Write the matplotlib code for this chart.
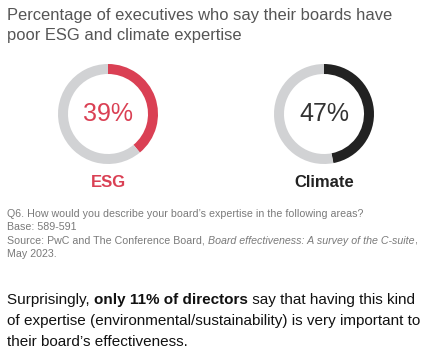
import matplotlib
matplotlib.use('Agg')
import matplotlib.pyplot as plt

plt.rcParams['font.family'] = ['Liberation Sans', 'DejaVu Sans']

labels = ['ESG', 'Climate']
values = [39, 47]
colors = ['#DA4054', '#222222']
rest_color = '#D1D2D4'
centers_px = [(108, 114), (324, 114)]

title = 'Percentage of executives who say their boards have\npoor ESG and climate expertise'
notes = ['Q6. How would you describe your board\u2019s expertise in the following areas?',
         'Base: 589-591']
source_plain = 'Source: PwC and The Conference Board, '
source_italic = 'Board effectiveness: A survey of the C-suite'
source_end = ','
source_line2 = 'May 2023.'

W, H = 437, 357
fig = plt.figure(figsize=(W / 100, H / 100), dpi=100)

fig.text(7 / W, 1 - 8 / H, title, ha='left', va='top', fontsize=11.9,
         color='#555555', linespacing=1.4)

R = 50
for (cx, cy), lab, val, col in zip(centers_px, labels, values, colors):
    ax = fig.add_axes([(cx - R) / W, 1 - (cy + R) / H, 2 * R / W, 2 * R / H])
    ax.pie([val, 100 - val], colors=[col, rest_color], startangle=90,
           counterclock=False, radius=1,
           wedgeprops=dict(width=0.2, linewidth=0))
    ax.set_xlim(-1, 1)
    ax.set_ylim(-1, 1)
    ax.set_aspect('equal')
    ax.axis('off')
    ax.text(0, 0, f'{val}%', ha='center', va='center', fontsize=18,
            color=col if col != '#222222' else '#333333')
    fig.text(cx / W, 1 - 183 / H, lab, ha='center', va='center', fontsize=12,
             fontweight='bold', color=col)

note_size = 7.7
note_color = '#7a7a7a'
y0 = 214
for i, line in enumerate(notes):
    fig.text(7 / W, 1 - (y0 + i * 13.3) / H, line, ha='left', va='center',
             fontsize=note_size, color=note_color)

fig.canvas.draw()
renderer = fig.canvas.get_renderer()


def run_text(x_px, y_px, parts, size, color):
    x = x_px
    for txt, kw in parts:
        t = fig.text(x / W, 1 - y_px / H, txt, ha='left', va='center',
                     fontsize=size, color=color, **kw)
        bb = t.get_window_extent(renderer=renderer)
        x += bb.width
    return x


run_text(7, y0 + 26.6, [(source_plain, {}), (source_italic, {'style': 'italic'}),
                        (source_end, {})], note_size, note_color)
fig.text(7 / W, 1 - (y0 + 40) / H, source_line2, ha='left', va='center',
         fontsize=note_size, color=note_color)

body_size = 11
run_text(7, 300, [('Surprisingly, ', {}), ('only 11% of directors', {'fontweight': 'bold'}),
                  (' say that having this kind', {})], body_size, '#111111')
fig.text(7 / W, 1 - 321 / H, 'of expertise (environmental/sustainability) is very important to',
         ha='left', va='center', fontsize=body_size, color='#111111')
fig.text(7 / W, 1 - 342 / H, 'their board\u2019s effectiveness.',
         ha='left', va='center', fontsize=body_size, color='#111111')

fig.savefig('out.png', dpi=100)
